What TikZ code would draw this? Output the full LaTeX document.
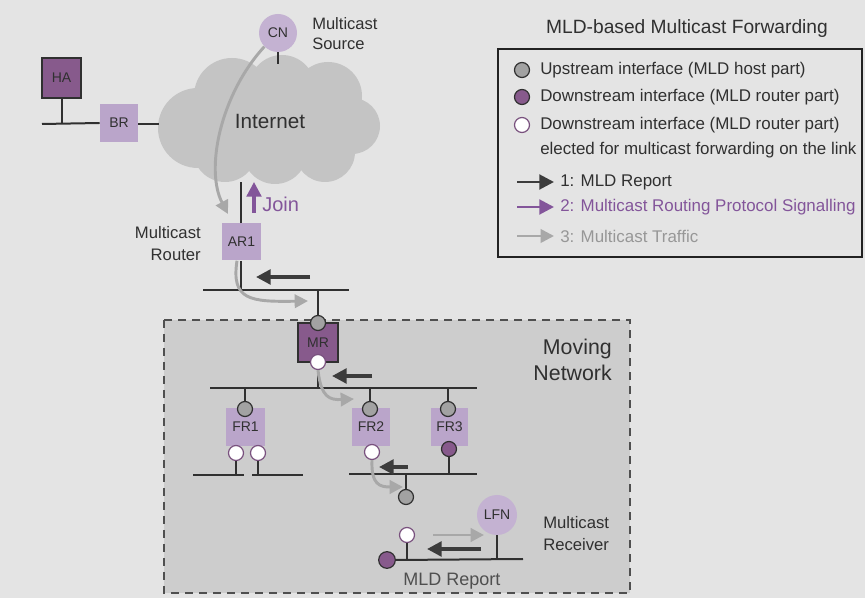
\documentclass[tikz,border=0pt]{standalone}
\usepackage{fontspec}
\setmainfont{Liberation Sans}
\usetikzlibrary{arrows.meta}
\definecolor{paper}{HTML}{E4E4E4}
\definecolor{mnfill}{HTML}{CDCDCD}
\definecolor{cloudgray}{HTML}{C4C4C4}
\definecolor{lilac}{HTML}{BAA5CA}
\definecolor{plum}{HTML}{875A8C}
\definecolor{purptext}{HTML}{83559A}
\definecolor{ifgray}{HTML}{A2A2A2}
\definecolor{ink}{HTML}{303030}
\definecolor{traffic}{HTML}{A8A8A8}
\definecolor{reportblack}{HTML}{3C3C3C}

\begin{document}
\begin{tikzpicture}[x=0.75pt,y=-0.75pt,
  wire/.style={draw=ink,line width=1.5pt},
  lbl/.style={text=ink,inner sep=0pt},
  lightbox/.style={rectangle,fill=lilac,inner sep=0pt,text=ink,font=\fontsize{10.5}{12}\selectfont},
  darkbox/.style={rectangle,fill=plum,draw=ink,line width=1pt,inner sep=0pt,text=ink,font=\fontsize{10.5}{12}\selectfont},
  hostnode/.style={circle,fill=lilac!85!white,inner sep=0pt,text=ink,font=\fontsize{10.5}{12}\selectfont},
  upif/.style={circle,minimum size=11.25pt,inner sep=0pt,fill=ifgray,draw=ink,line width=0.9pt},
  downif/.style={circle,minimum size=11.25pt,inner sep=0pt,fill=plum,draw=ink,line width=0.9pt},
  electif/.style={circle,minimum size=11.25pt,inner sep=0pt,fill=white,draw=plum!90!black,line width=0.9pt},
  reportarrow/.style={draw=reportblack,line width=2.6pt,-{Triangle[length=11pt,width=11pt]}},
  trafficarrow/.style={draw=traffic,line width=2.2pt,-{Triangle[length=10pt,width=10pt]}},
  signalarrow/.style={draw=purptext,line width=2.4pt,-{Triangle[length=11pt,width=11pt]}},
  legtext/.style={text=ink,inner sep=0pt,anchor=west,font=\fontsize{12.7}{18.5}\selectfont}
]
\useasboundingbox (0,0) rectangle (865,598);
\fill[paper] (0,0) rectangle (865,598);

% moving network area
\draw[fill=mnfill,draw=ink!85,line width=1.1pt,dash pattern=on 6pt off 4.5pt]
  (164,320) rectangle (630,593);

% Internet cloud
\fill[cloudgray]
  (198,128) circle[radius=30pt]
  (232,96) circle[radius=28.5pt]
  (282,88) circle[radius=24.75pt]
  (328,96) circle[radius=25.5pt]
  (352,126) circle[radius=21pt]
  (325,152) circle[radius=22.5pt]
  (275,152) circle[radius=24pt]
  (225,150) circle[radius=24pt]
  (210,95) rectangle (350,160);
\node[lbl,font=\fontsize{15.5}{18}\selectfont] (internet) at (270,121) {Internet};
\coordinate (cloudW) at (159,124);
\coordinate (cloudTop) at (278,64);
\coordinate (cloudBot) at (241,182);

% home network
\node[darkbox,minimum width=29.25pt,minimum height=30pt] (HA) at (61.5,78) {HA};
\node[lightbox,minimum width=28.5pt,minimum height=28.5pt] (BR) at (119,123) {BR};
\coordinate (hbusL) at (42,124);
\draw[wire] (hbusL) -- (BR.west);
\draw[wire] (HA.south) -- (HA.south |- hbusL);
\draw[wire] (BR.east |- cloudW) -- (cloudW);

% correspondent node
\node[hostnode,minimum size=28.5pt] (CN) at (278,33) {CN};
\draw[wire] (CN.south) -- (cloudTop);
\node[lbl,anchor=west,align=left,font=\fontsize{12.4}{15}\selectfont] (srcl) at (312,34) {Multicast\\Source};

% access router
\node[lightbox,minimum width=29.25pt,minimum height=27.75pt] (AR1) at (241.5,242) {AR1};
\node[lbl,anchor=east,align=right,font=\fontsize{12.5}{16.5}\selectfont] (rtrl) at (201,244) {Multicast\\Router};
\draw[wire] (AR1.north -| cloudBot) -- (cloudBot);
\coordinate (bus1L) at (203,290);
\coordinate (bus1R) at (349,290);
\draw[wire] (bus1L) -- (bus1R);
\draw[wire] (AR1.south -| cloudBot) -- (cloudBot |- bus1L);
\coordinate (joinS) at (254,213);
\coordinate (joinE) at (254,182);
\draw[signalarrow] (joinS) -- (joinE);
\node[lbl,anchor=west,text=purptext,font=\fontsize{15}{18}\selectfont] (joinl) at (262,204) {Join};

% mobile router
\node[darkbox,minimum width=30pt,minimum height=29.25pt] (MR) at (318,342.5) {MR};
\node[upif] (MRup) at (318,323) {};
\node[electif] (MRdn) at (318,362) {};
\draw[wire] (MRup.north) -- (MRup.north |- bus1L);
\coordinate (bus2L) at (210,388);
\coordinate (bus2R) at (477,388);
\draw[wire] (bus2L) -- (bus2R);
\draw[wire] (MRdn.south) -- (MRdn.south |- bus2L);
\node[lbl,anchor=east,align=right,font=\fontsize{16}{19}\selectfont] (mnl) at (612,360) {Moving\\Network};

% fixed routers
\node[lightbox,minimum width=29.25pt,minimum height=28pt] (FR1) at (245.5,427) {FR1};
\node[lightbox,minimum width=28.5pt,minimum height=28pt] (FR2) at (371,427) {FR2};
\node[lightbox,minimum width=28pt,minimum height=28pt] (FR3) at (449.5,427) {FR3};
\node[upif] (FR1up) at (245,409) {};
\node[upif] (FR2up) at (370,409) {};
\node[upif] (FR3up) at (448,409) {};
\foreach \r in {FR1up,FR2up,FR3up} \draw[wire] (\r.north) -- (\r.north |- bus2L);
\node[electif] (FR1a) at (236,453) {};
\node[electif] (FR1b) at (258,453) {};
\node[electif] (FR2dn) at (372,452) {};
\node[downif] (FR3dn) at (449,449) {};

\coordinate (bus3aL) at (193,475);
\coordinate (bus3aR) at (244,475);
\coordinate (bus3bL) at (252,475);
\coordinate (bus3bR) at (303,475);
\draw[wire] (bus3aL) -- (bus3aR);
\draw[wire] (bus3bL) -- (bus3bR);
\draw[wire] (FR1a.south) -- (FR1a.south |- bus3aL);
\draw[wire] (FR1b.south) -- (FR1b.south |- bus3bL);

\coordinate (bus4L) at (349,474);
\coordinate (bus4R) at (477,474);
\draw[wire] (bus4L) -- (bus4R);
\draw[wire] (FR2dn.south) -- (FR2dn.south |- bus4L);
\draw[wire] (FR3dn.south) -- (FR3dn.south |- bus4L);

% router of the receiver's link
\node[upif] (LRup) at (406,497) {};
\draw[wire] (LRup.north) -- (LRup.north |- bus4L);
\coordinate (bus5R) at (523,559);
\node[downif,minimum size=12.5pt] (LRdn) at (387,560) {};
\node[electif] (LRel) at (407,535) {};
\draw[wire] (LRdn.east) -- (bus5R);
\draw[wire] (LRel.south) -- (LRel.south |- bus5R);

% local fixed node
\node[hostnode,minimum size=30pt] (LFN) at (497,515) {LFN};
\draw[wire] (LFN.south) -- (LFN.south |- bus5R);
\node[lbl,anchor=west,align=left,font=\fontsize{12.5}{16.5}\selectfont] (rcvl) at (543,534) {Multicast\\Receiver};
\node[lbl,text=ink!85,font=\fontsize{13.5}{16}\selectfont] (mldl) at (452,581) {MLD Report};

% MLD reports
\coordinate (r1s) at (310,277); \coordinate (r1e) at (256,277);
\coordinate (r2s) at (372,376); \coordinate (r2e) at (332,376);
\coordinate (r3s) at (408,467); \coordinate (r3e) at (379,467);
\coordinate (r4s) at (481,549); \coordinate (r4e) at (427,549);
\draw[reportarrow] (r1s) -- (r1e);
\draw[reportarrow] (r2s) -- (r2e);
\draw[reportarrow] (r3s) -- (r3e);
\draw[reportarrow] (r4s) -- (r4e);

% multicast traffic
\coordinate (t0e) at (228,214);
\coordinate (t1e) at (308,301);
\coordinate (t2e) at (354,399);
\coordinate (t3e) at (403,487);
\coordinate (t4s) at (433,535); \coordinate (t4e) at (484,535);
\draw[trafficarrow] (CN.225) .. controls (220,95) and (205,170) .. (t0e);
\draw[trafficarrow] (AR1.south -| 237,0) .. controls (231,300) and (250,302) .. (t1e);
\draw[trafficarrow] (MRdn.south) .. controls (321,398) and (330,400) .. (t2e);
\draw[trafficarrow] (FR2dn.south) .. controls (371,485) and (380,487) .. (t3e);
\draw[trafficarrow] (t4s) -- (t4e);

% legend
\node[lbl,font=\fontsize{14.4}{17}\selectfont] (legtitle) at (687,29) {MLD-based Multicast Forwarding};
\draw[draw=ink!70!black,line width=1.6pt] (498,49) rectangle (862,257);
\node[upif] (lg1) at (522,70) {};
\node[downif] (lg2) at (522,97) {};
\node[electif] (lg3) at (522,125) {};
\node[legtext] (lt1) at (540,70) {Upstream interface (MLD host part)};
\node[legtext] (lt2) at (540,97) {Downstream interface (MLD router part)};
\node[legtext,align=left] (lt3) at (540,137.5) {Downstream interface (MLD router part)\\elected for multicast forwarding on the link};
\coordinate (la1s) at (517,182); \coordinate (la1e) at (554,182);
\coordinate (la2s) at (517,207); \coordinate (la2e) at (554,207);
\coordinate (la3s) at (517,236); \coordinate (la3e) at (554,236);
\draw[reportarrow,line width=2.2pt] (la1s) -- (la1e);
\draw[signalarrow,line width=2.2pt] (la2s) -- (la2e);
\draw[trafficarrow,line width=2pt] (la3s) -- (la3e);
\node[legtext] (la1t) at (560,182) {1: MLD Report};
\node[legtext,text=purptext] (la2t) at (560,207) {2: Multicast Routing Protocol Signalling};
\node[legtext,text=traffic!90!black] (la3t) at (560,236) {3: Multicast Traffic};
\end{tikzpicture}
\end{document}
